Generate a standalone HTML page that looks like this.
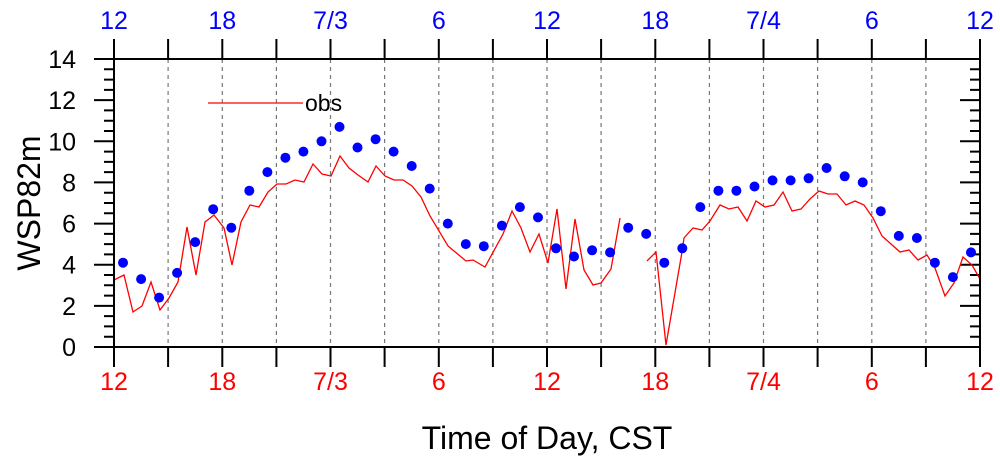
<!DOCTYPE html>
<html><head><style>body{margin:0;background:#fff}svg{display:block}</style></head><body>
<svg width="1000" height="458" xmlns="http://www.w3.org/2000/svg" font-family="Liberation Sans, sans-serif">
<path stroke="#777" stroke-width="1.2" stroke-dasharray="4,4" fill="none" d="M168.1 59V347M222.3 59V347M276.4 59V347M330.5 59V347M384.6 59V347M438.8 59V347M492.9 59V347M547 59V347M601.1 59V347M655.3 59V347M709.4 59V347M763.5 59V347M817.6 59V347M871.8 59V347M925.9 59V347"/>
<path stroke="#000" stroke-width="2" fill="none" d="M114 39V59M168.1 39V59M222.3 39V59M276.4 39V59M330.5 39V59M384.6 39V59M438.8 39V59M492.9 39V59M547 39V59M601.1 39V59M655.3 39V59M709.4 39V59M763.5 39V59M817.6 39V59M871.8 39V59M925.9 39V59M980 39V59
M114 347V367M168.1 347V367M222.3 347V367M276.4 347V367M330.5 347V367M384.6 347V367M438.8 347V367M492.9 347V367M547 347V367M601.1 347V367M655.3 347V367M709.4 347V367M763.5 347V367M817.6 347V367M871.8 347V367M925.9 347V367M980 347V367
M94 347H114M94 305.9H114M94 264.7H114M94 223.6H114M94 182.4H114M94 141.3H114M94 100.1H114M94 59H114
M104 336.7H114M104 326.4H114M104 316.1H114M104 295.6H114M104 285.3H114M104 275H114M104 254.4H114M104 244.1H114M104 233.9H114M104 213.3H114M104 203H114M104 192.7H114M104 172.1H114M104 161.9H114M104 151.6H114M104 131H114M104 120.7H114M104 110.4H114M104 89.9H114M104 79.6H114M104 69.3H114
M960 347H980M960 305.9H980M960 264.7H980M960 223.6H980M960 182.4H980M960 141.3H980M960 100.1H980M960 59H980
M970 336.7H980M970 326.4H980M970 316.1H980M970 295.6H980M970 285.3H980M970 275H980M970 254.4H980M970 244.1H980M970 233.9H980M970 213.3H980M970 203H980M970 192.7H980M970 172.1H980M970 161.9H980M970 151.6H980M970 131H980M970 120.7H980M970 110.4H980M970 89.9H980M970 79.6H980M970 69.3H980"/>
<polyline fill="none" stroke="#f00" stroke-width="1.3" points="114,280 124,275 133,312 142,306 151,282 160,310 169,298 178,282 187,227 196,275 205,222 214,215 224,228 232,265 241,222 250,205 259,207 268,192 277,184 286,184 295,180 304,182 313,164 322,174 331,176 340,156 349,168 358,175 368,182 376,166 385,176 394,180 403,180 412,186 421,197 430,216 448,246 466,261 473,260 485,267 503,234 512,211 521,228 530,252 539,234 548,263 557,209 566,289 575,219 584,270 593,285 601,283 611,269 620,218"/>
<polyline fill="none" stroke="#f00" stroke-width="1.3" points="647,261 656,252 666,345 682,252 684,238 693,228 702,230 710,221 720,205 729,209 738,207 747,221 756,201 765,207 774,205 783,192 792,211 801,209 810,199 819,191 828,194 837,194 846,205 855,201 864,205 873,218 882,236 891,244 900,252 909,250 918,260 927,255 935,268 945,296 954,283 963,257 972,265 980,279"/>
<g fill="#00f">
<circle cx="123.0" cy="262.7" r="5"/><circle cx="141.1" cy="279.1" r="5"/><circle cx="159.1" cy="297.6" r="5"/><circle cx="177.1" cy="272.9" r="5"/><circle cx="195.2" cy="242.1" r="5"/><circle cx="213.2" cy="209.2" r="5"/><circle cx="231.3" cy="227.7" r="5"/><circle cx="249.3" cy="190.7" r="5"/><circle cx="267.4" cy="172.1" r="5"/><circle cx="285.4" cy="157.7" r="5"/><circle cx="303.4" cy="151.6" r="5"/><circle cx="321.5" cy="141.3" r="5"/><circle cx="339.5" cy="126.9" r="5"/><circle cx="357.5" cy="147.5" r="5"/><circle cx="375.6" cy="139.2" r="5"/><circle cx="393.6" cy="151.6" r="5"/><circle cx="411.7" cy="166.0" r="5"/><circle cx="429.7" cy="188.6" r="5"/><circle cx="447.8" cy="223.6" r="5"/><circle cx="465.8" cy="244.1" r="5"/><circle cx="483.8" cy="246.2" r="5"/><circle cx="501.9" cy="225.6" r="5"/><circle cx="519.9" cy="207.1" r="5"/><circle cx="538.0" cy="217.4" r="5"/><circle cx="556.0" cy="248.3" r="5"/><circle cx="574.0" cy="256.5" r="5"/><circle cx="592.1" cy="250.3" r="5"/><circle cx="610.1" cy="252.4" r="5"/><circle cx="628.2" cy="227.7" r="5"/><circle cx="646.2" cy="233.9" r="5"/><circle cx="664.3" cy="262.7" r="5"/><circle cx="682.3" cy="248.3" r="5"/><circle cx="700.3" cy="207.1" r="5"/><circle cx="718.4" cy="190.7" r="5"/><circle cx="736.4" cy="190.7" r="5"/><circle cx="754.5" cy="186.5" r="5"/><circle cx="772.5" cy="180.4" r="5"/><circle cx="790.6" cy="180.4" r="5"/><circle cx="808.6" cy="178.3" r="5"/><circle cx="826.6" cy="168.0" r="5"/><circle cx="844.7" cy="176.3" r="5"/><circle cx="862.7" cy="182.4" r="5"/><circle cx="880.8" cy="211.2" r="5"/><circle cx="898.8" cy="235.9" r="5"/><circle cx="916.9" cy="238.0" r="5"/><circle cx="934.9" cy="262.7" r="5"/><circle cx="952.9" cy="277.1" r="5"/><circle cx="971.0" cy="252.4" r="5"/>
</g>
<rect x="114" y="59" width="866" height="288" fill="none" stroke="#000" stroke-width="2"/>
<line x1="208" y1="103" x2="303" y2="103" stroke="#f00" stroke-width="1.3"/>
<text x="305" y="111" font-size="23">obs</text>
<g font-size="25" text-anchor="end">
<text x="76" y="356">0</text><text x="76" y="314.9">2</text><text x="76" y="273.7">4</text><text x="76" y="232.6">6</text><text x="76" y="191.4">8</text><text x="76" y="150.3">10</text><text x="76" y="109.1">12</text><text x="76" y="68">14</text>
</g>
<g font-size="25" text-anchor="middle" fill="#00f">
<text x="114" y="29">12</text><text x="222.3" y="29">18</text><text x="330.5" y="29">7/3</text><text x="438.8" y="29">6</text><text x="547" y="29">12</text><text x="655.3" y="29">18</text><text x="763.5" y="29">7/4</text><text x="871.8" y="29">6</text><text x="980" y="29">12</text>
</g>
<g font-size="25" text-anchor="middle" fill="#f00">
<text x="114" y="390">12</text><text x="222.3" y="390">18</text><text x="330.5" y="390">7/3</text><text x="438.8" y="390">6</text><text x="547" y="390">12</text><text x="655.3" y="390">18</text><text x="763.5" y="390">7/4</text><text x="871.8" y="390">6</text><text x="980" y="390">12</text>
</g>
<text transform="translate(40,203) rotate(-90)" text-anchor="middle" font-size="32">WSP82m</text>
<text x="547" y="449" text-anchor="middle" font-size="32">Time of Day, CST</text>
</svg>
</body></html>
